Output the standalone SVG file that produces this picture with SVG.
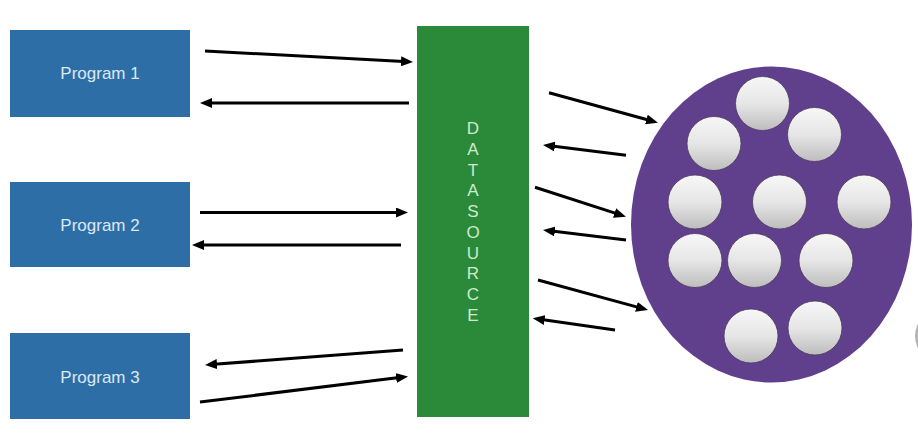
<svg xmlns="http://www.w3.org/2000/svg" width="918" height="443" viewBox="0 0 918 443">
<defs>
<style>
.prog{fill:#2E6EA6;}
.ptxt{font-family:"Liberation Sans",Arial,sans-serif;font-size:17px;fill:#DCE8F3;text-anchor:middle;}
.dtxt{font-family:"Liberation Sans",Arial,sans-serif;font-size:17px;fill:#CFEBCB;text-anchor:middle;}
.arr{stroke:#000;stroke-width:3;fill:none;marker-end:url(#ah);}
.ball{fill:url(#bg);stroke:#4a3a5a;stroke-width:0.8;}
</style>
<marker id="ah" markerUnits="userSpaceOnUse" markerWidth="12" markerHeight="10" refX="3" refY="5" orient="auto">
<path d="M0,0 L12,5 L0,10 z" fill="#000"/>
</marker>
<linearGradient id="bg" x1="0" y1="0" x2="0" y2="1">
<stop offset="0" stop-color="#F7F7F7"/>
<stop offset="0.5" stop-color="#E6E6E6"/>
<stop offset="1" stop-color="#BDBDBD"/>
</linearGradient>
</defs>
<rect width="918" height="443" fill="#fff"/>
<g id="program1"><rect class="prog" x="10" y="30" width="180" height="87"/><text class="ptxt" x="100" y="79">Program 1</text></g>
<g id="program2"><rect class="prog" x="10" y="182" width="180" height="85"/><text class="ptxt" x="100" y="231">Program 2</text></g>
<g id="program3"><rect class="prog" x="10" y="333" width="180" height="86"/><text class="ptxt" x="100" y="383">Program 3</text></g>
<g id="datasource">
<rect x="417" y="26" width="112" height="391" fill="#2A8A3A"/>
<text class="dtxt" x="473" y="134">D</text>
<text class="dtxt" x="473" y="154.8">A</text>
<text class="dtxt" x="473" y="175.6">T</text>
<text class="dtxt" x="473" y="196.3">A</text>
<text class="dtxt" x="473" y="217.1">S</text>
<text class="dtxt" x="473" y="237.9">O</text>
<text class="dtxt" x="473" y="258.7">U</text>
<text class="dtxt" x="473" y="279.4">R</text>
<text class="dtxt" x="473" y="300.2">C</text>
<text class="dtxt" x="473" y="321">E</text>
</g>
<g id="cluster">
<ellipse cx="771.5" cy="224.5" rx="140.5" ry="158" fill="#60408D"/>
<circle class="ball" cx="762.5" cy="103.5" r="27"/>
<circle class="ball" cx="714" cy="143.5" r="27"/>
<circle class="ball" cx="814.5" cy="134.5" r="27"/>
<circle class="ball" cx="695" cy="202" r="27"/>
<circle class="ball" cx="779.5" cy="202" r="27"/>
<circle class="ball" cx="864" cy="202" r="27"/>
<circle class="ball" cx="695" cy="260.5" r="27"/>
<circle class="ball" cx="754.5" cy="260.5" r="27"/>
<circle class="ball" cx="826" cy="260.5" r="27"/>
<circle class="ball" cx="751" cy="336" r="27"/>
<circle class="ball" cx="815" cy="328" r="27"/>
</g>
<g id="edge-ball"><circle cx="942" cy="336" r="27" fill="#B5B5B5"/></g>
<g id="connectors">
<line class="arr" x1="205" y1="51" x2="404" y2="61.5"/>
<line class="arr" x1="409" y1="103" x2="209" y2="103"/>
<line class="arr" x1="200" y1="212.5" x2="399" y2="212.5"/>
<line class="arr" x1="401" y1="245" x2="201" y2="245"/>
<line class="arr" x1="403" y1="350" x2="214" y2="364.3"/>
<line class="arr" x1="200" y1="402" x2="399.1" y2="377.6"/>
<line class="arr" x1="549" y1="92.7" x2="649.3" y2="120.3"/>
<line class="arr" x1="626" y1="155.3" x2="551.9" y2="146.1"/>
<line class="arr" x1="535" y1="187.3" x2="617.4" y2="213.9"/>
<line class="arr" x1="626" y1="240" x2="551.9" y2="231.1"/>
<line class="arr" x1="538" y1="280" x2="639.3" y2="307.6"/>
<line class="arr" x1="615" y1="330" x2="541.6" y2="319.6"/>
</g>
</svg>
